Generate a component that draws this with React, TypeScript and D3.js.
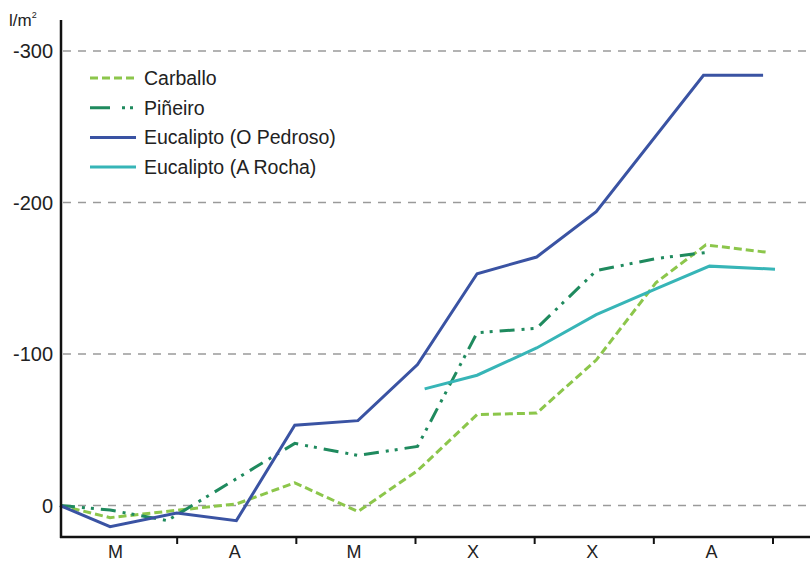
import { FC, useEffect } from "react";
import * as d3 from "d3";

// month positions (0 = start of first M, 1 unit = 1 month)
const monthLabels = ["M", "A", "M", "X", "X", "A"];
const yTicks = [0, -100, -200, -300];

const carballoX = [0, 0.42, 1.0, 1.48, 1.97, 2.5, 3.0, 3.5, 4.0, 4.5, 5.0, 5.42, 5.95];
const carballoY = [0, 8, 3, -1, -15, 4, -23, -60, -61, -96, -147, -172, -167];

const pineiroX = [0, 0.42, 0.9, 1.97, 2.5, 3.0, 3.5, 4.0, 4.5, 5.0, 5.42];
const pineiroY = [0, 3, 10, -41, -33, -39, -114, -117, -155, -163, -167];

const pedrosoX = [0, 0.42, 0.98, 1.48, 1.97, 2.5, 3.0, 3.5, 4.0, 4.5, 5.4, 5.9];
const pedrosoY = [0, 14, 5, 10, -53, -56, -93, -153, -164, -194, -284, -284];

const rochaX = [3.06, 3.5, 4.0, 4.5, 5.0, 5.45, 6.0];
const rochaY = [-77, -86, -104, -126, -143, -158, -156];

type Serie = { name: string; xs: number[]; ys: number[]; color: string; dash: string; legendDash: string };

const series: Serie[] = [
  { name: "Carballo", xs: carballoX, ys: carballoY, color: "#8cc64b", dash: "8 4", legendDash: "8 4" },
  { name: "Piñeiro", xs: pineiroX, ys: pineiroY, color: "#1f8a5e", dash: "15 7 3 6 3 7", legendDash: "20 12 3 5 3 20" },
  { name: "Eucalipto (O Pedroso)", xs: pedrosoX, ys: pedrosoY, color: "#3a53a3", dash: "", legendDash: "" },
  { name: "Eucalipto (A Rocha)", xs: rochaX, ys: rochaY, color: "#37b5b7", dash: "", legendDash: "" },
];

const W = 810, H = 561;
const x = d3.scaleLinear().domain([0, 6]).range([60, 775]);
const y = d3.scaleLinear().domain([0, -300]).range([505.5, 51]);
const axisY = 537;
const font = "'Liberation Sans', Arial, sans-serif";

const App: FC = () => {
  useEffect(() => {
    document.body.style.margin = "0";
  }, []);

  const line = d3.line<[number, number]>()
    .x(d => x(d[0]))
    .y(d => y(d[1]));

  return (
    <svg width={W} height={H} style={{ display: "block", background: "#fff" }} fontFamily={font}>
      {/* grid */}
      {yTicks.map(t => (
        <line key={t} x1={63} x2={W} y1={y(t)} y2={y(t)}
          stroke="#9a9a9a" strokeWidth={1.5} strokeDasharray="8 7" />
      ))}
      {yTicks.map(t => (
        <text key={"l" + t} x={53} y={y(t) + 7} textAnchor="end" fontSize={20} fill="#222">{t}</text>
      ))}
      <text x={9} y={26} fontSize={17} fill="#222">l/m<tspan dy={-8} fontSize={9}>2</tspan></text>

      {/* series */}
      {series.map(s => (
        <path key={s.name}
          d={line(s.xs.map((v, i) => [v, s.ys[i]] as [number, number])) || ""}
          fill="none" stroke={s.color} strokeWidth={3}
          strokeDasharray={s.dash || undefined} strokeLinejoin="miter" />
      ))}

      {/* axes */}
      <line x1={61} x2={61} y1={20} y2={axisY + 1} stroke="#111" strokeWidth={2.5} />
      <line x1={60} x2={W} y1={axisY} y2={axisY} stroke="#111" strokeWidth={2.5} />
      {d3.range(1, 7).map(i => (
        <line key={"t" + i} x1={x(i) - 2} x2={x(i) - 2} y1={axisY} y2={axisY + 7} stroke="#111" strokeWidth={2} />
      ))}
      {monthLabels.map((m, i) => (
        <text key={"m" + i} x={x(i + 0.5) - 4} y={558} textAnchor="middle" fontSize={18} fill="#222">{m}</text>
      ))}

      {/* legend */}
      {series.map((s, i) => (
        <g key={"lg" + s.name} transform={`translate(90, ${78 + i * 29.7})`}>
          <line x1={0} x2={46} y1={0} y2={0} stroke={s.color} strokeWidth={3}
            strokeDasharray={s.legendDash || undefined} />
          <text x={54} y={7} fontSize={19.5} fill="#222">{s.name}</text>
        </g>
      ))}
    </svg>
  );
};

export default App;
